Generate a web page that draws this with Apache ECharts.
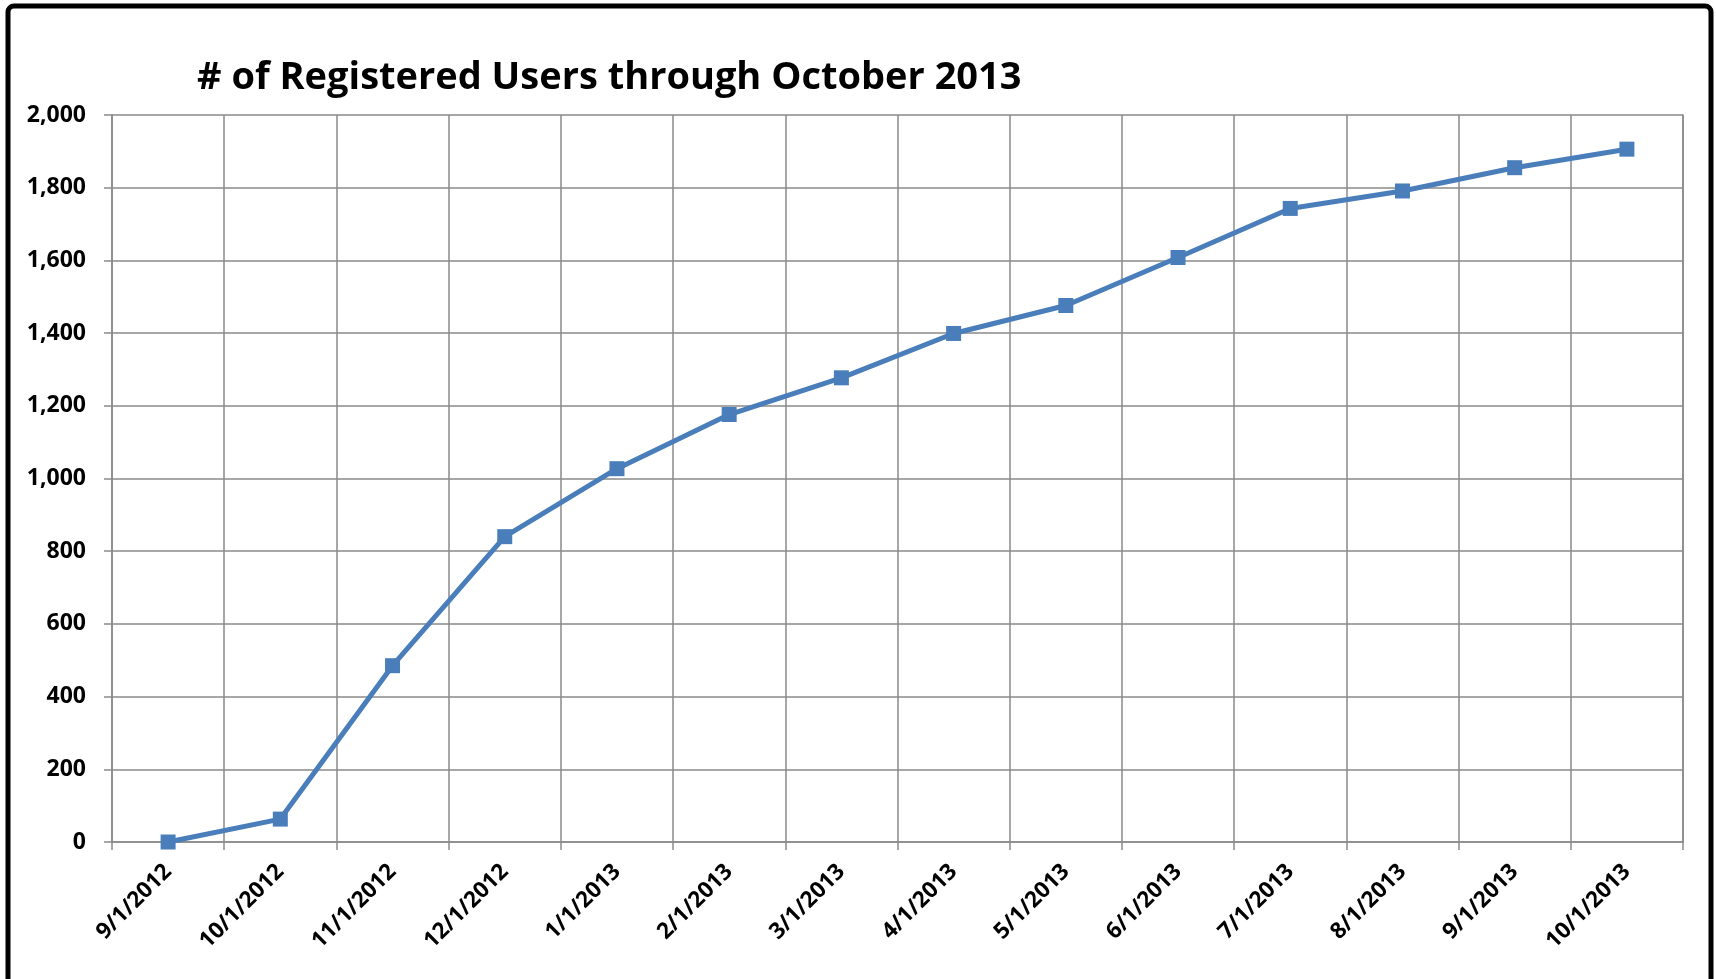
<!DOCTYPE html>
<html>
<head>
<meta charset="utf-8">
<script src="https://cdn.jsdelivr.net/npm/echarts@6/dist/echarts.min.js"></script>
<style>
html,body{margin:0;padding:0;background:#fff;}
#chart{width:1716px;height:979px;}
</style>
</head>
<body>
<div id="chart"></div>
<script>
const categories = ['9/1/2012','10/1/2012','11/1/2012','12/1/2012','1/1/2013','2/1/2013','3/1/2013','4/1/2013','5/1/2013','6/1/2013','7/1/2013','8/1/2013','9/1/2013','10/1/2013'];
const registeredUsers = [0, 63, 485, 840, 1027, 1176, 1277, 1399, 1476, 1608, 1743, 1791, 1855, 1906];
const titleText = '# of Registered Users through October 2013';

const chart = echarts.init(document.getElementById('chart'), null, {renderer: 'canvas'});
const gridColor = '#8a8a8a';
const fontFam = '"Open Sans", Lato, sans-serif';
chart.setOption({
  backgroundColor: '#fff',
  animation: false,
  title: {
    text: titleText,
    left: 192, top: 54,
    textStyle: {fontFamily: fontFam, fontWeight: 'bold', fontSize: 38, color: '#000'}
  },
  graphic: [{
    type: 'rect', silent: true,
    shape: {x: 8, y: 6, width: 1703, height: 1000, r: 6},
    style: {fill: 'none', stroke: '#000', lineWidth: 5}
  }],
  grid: {left: 112, right: 33, top: 115, bottom: 137, containLabel: false},
  xAxis: {
    type: 'category', data: categories, boundaryGap: true,
    axisLine: {show: true, lineStyle: {color: gridColor, width: 1.5}},
    axisTick: {show: true, length: 8, interval: 0, lineStyle: {color: gridColor, width: 1.5}},
    splitLine: {show: true, interval: 0, lineStyle: {color: gridColor, width: 1.5}},
    axisLabel: {interval: 0, rotate: 45, margin: 26, color: '#000', fontFamily: fontFam, fontWeight: 'bold', fontSize: 22.5}
  },
  yAxis: [{
    type: 'value', min: 0, max: 2000, interval: 200,
    axisLine: {show: true, lineStyle: {color: gridColor, width: 1.5}},
    axisTick: {show: true, length: 8, lineStyle: {color: gridColor, width: 1.5}},
    splitLine: {show: true, lineStyle: {color: gridColor, width: 1.5}},
    axisLabel: {margin: 26, color: '#000', fontFamily: fontFam, fontWeight: 'bold', fontSize: 23,
      formatter: v => v.toLocaleString('en-US')}
  }, {
    type: 'value', min: 0, max: 2000, interval: 200, position: 'right',
    axisLine: {show: true, lineStyle: {color: gridColor, width: 1.5}},
    axisTick: {show: false}, axisLabel: {show: false}, splitLine: {show: false}
  }],
  series: [{
    type: 'line', data: registeredUsers, yAxisIndex: 0,
    symbol: 'rect', symbolSize: 15,
    lineStyle: {color: '#4a7ebb', width: 5},
    itemStyle: {color: '#4a7ebb'}
  }]
});
</script>
</body>
</html>
